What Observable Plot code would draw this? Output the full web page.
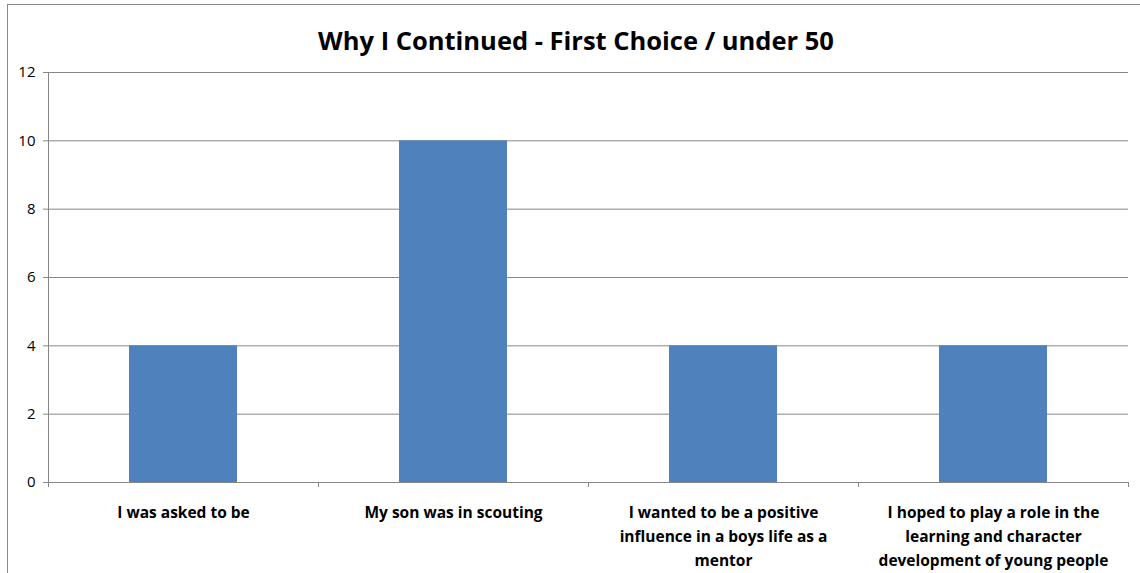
<!DOCTYPE html>
<html>
<head>
<meta charset="utf-8">
<script src="https://cdn.jsdelivr.net/npm/d3@7"></script>
<script src="https://cdn.jsdelivr.net/npm/@observablehq/plot@0.6"></script>
<style>
  html, body { margin: 0; padding: 0; background: #fff; }
  #chart { position: relative; width: 1140px; height: 573px; overflow: hidden; font-family: "Open Sans", Lato, sans-serif; }
  #frame { position: absolute; left: 7px; top: 4px; right: -4px; bottom: -4px;
           border-left: 1px solid #8a8a8a; border-top: 1.5px solid #8a8a8a; pointer-events: none; }
  #title { height: 60px; box-sizing: border-box; padding-top: 24px; padding-left: 12px;
           text-align: center; font-weight: bold; font-size: 25.5px; line-height: 32px; color: #000; }
  #plot svg { display: block; }
</style>
</head>
<body>
<div id="chart">
  <div id="frame"></div>
  <div id="title">Why I Continued - First Choice / under 50</div>
  <div id="plot"></div>
</div>
<script>
// Reasons given, in the order they appear along the axis
const categories = [
  "I was asked to be",
  "My son was in scouting",
  "I wanted to be a positive influence in a boys life as a mentor",
  "I hoped to play a role in the learning and character development of young people"
];
// Number of respondents choosing each reason first
const counts = [4, 10, 4, 4];
// Axis labels, broken over lines
const tickLabels = [
  "I was asked to be",
  "My son was in scouting",
  "I wanted to be a positive\ninfluence in a boys life as a\nmentor",
  "I hoped to play a role in the\nlearning and character\ndevelopment of young people"
];
const yTicks = [0, 2, 4, 6, 8, 10, 12];

const data = categories.map((c, i) => ({reason: c, count: counts[i]}));

const width = 1140;
const marginLeft = 48, marginRight = 12;
const halfStep = (width - marginLeft - marginRight) / categories.length / 2;
const gray = "#868686";

const chart = Plot.plot({
  width,
  height: 513,
  marginTop: 12,
  marginBottom: 91,
  marginLeft,
  marginRight,
  style: {fontFamily: "'Open Sans', Lato, sans-serif", fontSize: "15px", color: "#000", background: "transparent", overflow: "visible"},
  x: {type: "band", domain: categories, paddingInner: 0.6, paddingOuter: 0.3, axis: null},
  y: {domain: [0, yTicks.at(-1)], axis: null},
  marks: [
    Plot.gridY(yTicks, {stroke: gray, strokeOpacity: 1}),
    Plot.barY(data, {x: "reason", y: "count", fill: "#4F81BD"}),
    Plot.ruleY([0], {stroke: gray}),
    // vertical value axis line
    Plot.ruleX([categories[0]], {x: d => d, dx: -halfStep, y1: () => 0, y2: () => yTicks.at(-1), stroke: gray}),
    // category boundary ticks below the baseline
    Plot.ruleX(categories, {x: d => d, dx: -halfStep, y1: 0, y2: 0, insetBottom: -5, stroke: gray}),
    Plot.ruleX([categories.at(-1)], {x: d => d, dx: halfStep, y1: 0, y2: 0, insetBottom: -5, stroke: gray}),
    Plot.axisY(yTicks, {tickSize: 5, tickPadding: 8, stroke: gray, fontSize: 15, fill: "#000", label: null}),
    Plot.axisX({
      tickSize: 0,
      tickPadding: 18,
      tickFormat: d => tickLabels[categories.indexOf(d)],
      fontSize: 15.5,
      fontWeight: "bold",
      lineHeight: 1.55,
      fill: "#000",
      label: null
    })
  ]
});
document.getElementById("plot").appendChild(chart);
</script>
</body>
</html>
